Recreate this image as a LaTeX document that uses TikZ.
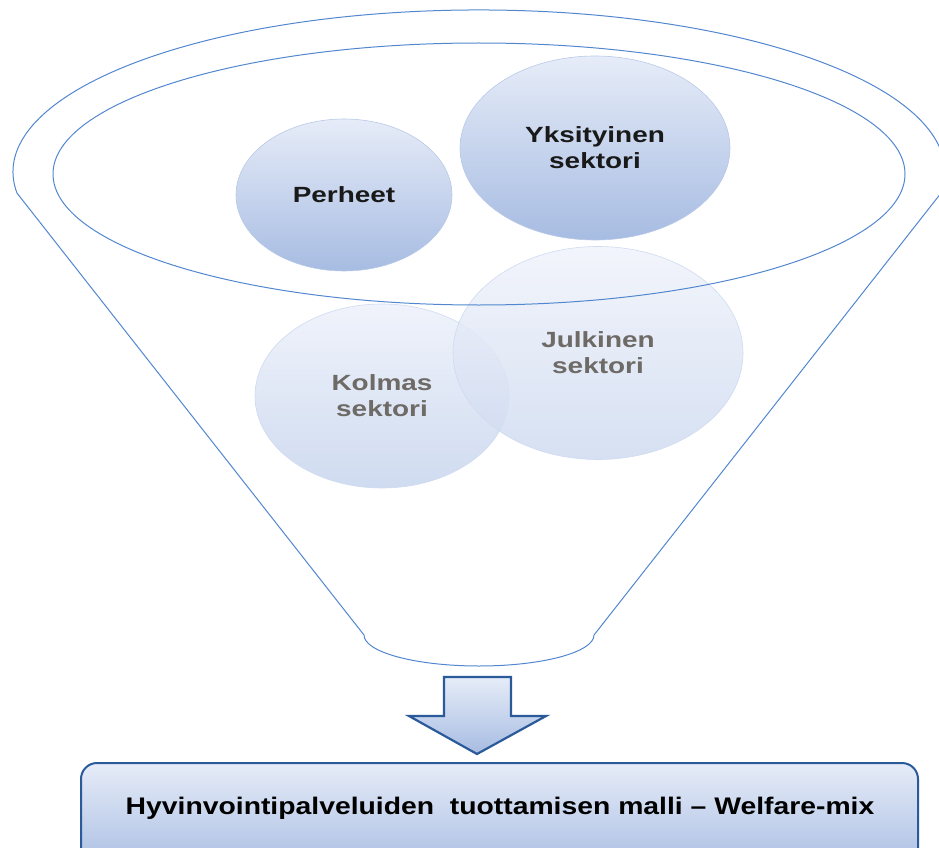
\documentclass[tikz,border=0pt]{standalone}
\usepackage{fontspec}
\setmainfont{Liberation Sans}
\newfontfamily\circfont[FakeStretch=1.27]{Liberation Sans}
\newfontfamily\boxfont[FakeStretch=1.18]{Liberation Sans}
\usetikzlibrary{shapes.geometric}
\definecolor{fline}{HTML}{5287CF}
\definecolor{ctop}{HTML}{E6ECF8}
\definecolor{cbot}{HTML}{A7BCE2}
\definecolor{ltop}{HTML}{F0F3FB}
\definecolor{lbot}{HTML}{CFDBF0}
\definecolor{dark}{HTML}{2B5A9A}
\definecolor{greytxt}{HTML}{6E6A66}
\begin{document}
\begin{tikzpicture}[x=1pt,y=1pt,
  funnelline/.style={draw=fline,line width=1pt},
  bubble/.style={ellipse,inner sep=0pt,align=center,shading=axis,top color=ctop,bottom color=cbot,
    draw=cbot!80!white,line width=0.6pt,font=\circfont\bfseries\fontsize{22}{26}\selectfont,text=black!90},
  pale/.style={top color=ltop,bottom color=lbot,draw=lbot,text=greytxt},
  bluebox/.style={draw=dark,line width=2pt,top color=ctop,bottom color=cbot}]
\clip (0,0) rectangle (939,-848);
\useasboundingbox (0,0) rectangle (939,-848);
% funnel outline
\draw[funnelline] (17,-193.1) arc[start angle=187.5,end angle=-7.5,x radius=466,y radius=162]
  -- (594,-635) arc[start angle=0,end angle=-180,x radius=115,y radius=31] -- cycle;
% bubbles
\node[bubble,minimum width=216,minimum height=152] (perheet) at (344,-195) {Perheet};
\node[bubble,minimum width=270,minimum height=184] (yks) at (595,-148) {Yksityinen\\sektori};
\node[bubble,pale,minimum width=254,minimum height=184] (kolmas) at (382,-396) {Kolmas\\sektori};
\node[bubble,pale,fill opacity=0.85,text opacity=1,minimum width=290,minimum height=213] (julk) at (598,-353) {Julkinen\\sektori};
% inner ellipse of the funnel mouth
\draw[funnelline] (479,-174) ellipse[x radius=426,y radius=131];
% arrow
\draw[bluebox,line width=2.2pt,line join=miter] (444,-677) -- (511,-677) -- (511,-716) -- (546,-716)
  -- (477,-754) -- (409,-716) -- (444,-716) -- cycle;
% result box
\node[bluebox,rounded corners=16pt,minimum width=837,minimum height=110,anchor=north west,inner sep=0pt] (mix) at (80,-762) {};
\node[font=\boxfont\bfseries\fontsize{24}{28}\selectfont] (mixtext) at (500,-808) {Hyvinvointipalveluiden~ tuottamisen malli – Welfare-mix};
\end{tikzpicture}
\end{document}
